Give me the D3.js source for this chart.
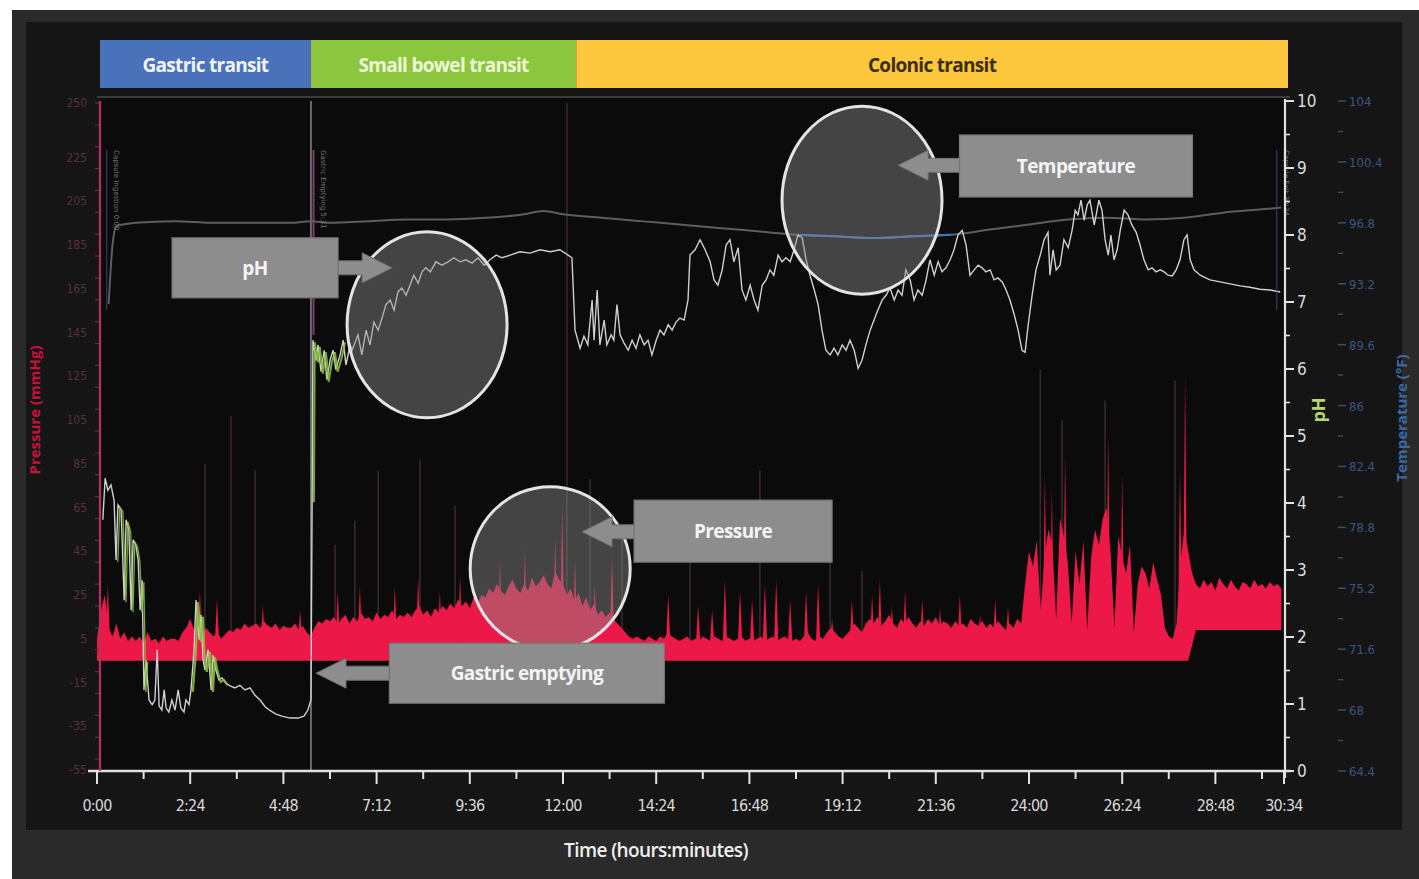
<!DOCTYPE html>
<html><head><meta charset="utf-8">
<script src="https://cdn.jsdelivr.net/npm/d3@7"></script>
<style>
html,body{margin:0;padding:0;background:#fff;}
svg{display:block;}
</style></head>
<body>
<svg id="chart" width="1419" height="879"></svg>
<script>
// ---------------- DATA ----------------
const phaseNames = ["Gastric transit", "Small bowel transit", "Colonic transit"];
const phaseStart = [0, 5.51, 12.34];
const phaseEnd = [5.51, 12.34, 30.67];

const timeTickHours = [0, 2.4, 4.8, 7.2, 9.6, 12, 14.4, 16.8, 19.2, 21.6, 24, 26.4, 28.8, 30.567];
const timeTickLabels = ["0:00","2:24","4:48","7:12","9:36","12:00","14:24","16:48","19:12","21:36","24:00","26:24","28:48","30:34"];
const timeMinorTicks = [1.2, 3.6, 6.0, 8.4, 10.8, 13.2, 15.6, 18.0, 20.4, 22.8, 25.2, 27.6, 30.0];
const pressureTicks = [250, 225, 205, 185, 165, 145, 125, 105, 85, 65, 45, 25, 5, -15, -35, -55];
const phTicks = [0,1,2,3,4,5,6,7,8,9,10];
const tempTicks = [104, 100.4, 96.8, 93.2, 89.6, 86, 82.4, 78.8, 75.2, 71.6, 68, 64.4];

// pH trace [hours, pH]
const phSeries = [
[0.15,3.75],[0.21,4.37],[0.28,4.19],[0.36,4.27],[0.44,4.04],[0.49,3.15],[0.54,3.97],[0.62,3.90],[0.70,2.55],[0.75,3.75],
[0.82,3.60],[0.88,2.40],[0.93,3.45],[1.00,3.37],[1.06,3.15],[1.11,2.40],[1.16,2.85],[1.21,1.21],[1.26,1.66],[1.34,1.06],
[1.42,0.99],[1.49,1.06],[1.55,1.81],[1.60,0.97],[1.67,0.91],[1.73,1.21],[1.78,0.94],[1.85,0.88],[1.93,1.06],[2.01,0.91],
[2.09,1.21],[2.16,0.94],[2.24,0.88],[2.29,1.06],[2.37,0.99],[2.42,1.21],[2.50,1.81],[2.55,2.55],[2.63,1.96],[2.68,2.33],
[2.73,1.66],[2.78,1.51],[2.86,1.81],[2.94,1.21],[2.99,1.73],[3.06,1.51],[3.14,1.36],[3.22,1.39],[3.32,1.31],[3.43,1.27],
[3.55,1.24],[3.68,1.28],[3.81,1.21],[3.94,1.24],[4.07,1.13],[4.20,1.06],[4.33,0.96],[4.46,0.90],[4.61,0.85],[4.76,0.82],
[4.97,0.79],[5.18,0.79],[5.33,0.82],[5.43,0.91],[5.51,1.06],[5.54,4.04],[5.56,6.43],[5.64,6.13],[5.69,6.36],[5.77,5.96],
[5.85,6.28],[5.92,5.84],[6.00,6.13],[6.08,6.28],[6.15,5.99],[6.26,6.21],[6.34,6.43],[6.41,6.06],[6.52,6.36],[6.57,6.28],
[6.72,6.51],[6.82,6.21],[6.93,6.58],[7.03,6.36],[7.13,6.70],[7.24,6.58],[7.34,6.76],[7.44,6.96],[7.55,7.03],[7.65,6.88],
[7.75,7.15],[7.85,7.21],[7.96,7.10],[8.06,7.25],[8.16,7.40],[8.27,7.28],[8.37,7.45],[8.47,7.51],[8.58,7.45],[8.73,7.60],
[8.88,7.55],[9.04,7.60],[9.19,7.66],[9.35,7.60],[9.50,7.63],[9.66,7.58],[9.81,7.66],[9.97,7.55],[10.12,7.63],[10.28,7.70],
[10.43,7.66],[10.64,7.70],[10.89,7.75],[11.15,7.73],[11.41,7.78],[11.67,7.75],[11.92,7.78],[12.13,7.70],[12.23,7.66],[12.31,6.58],
[12.44,6.31],[12.54,6.49],[12.64,6.36],[12.75,7.03],[12.80,6.43],[12.88,7.18],[12.95,6.36],[13.06,6.73],[13.13,6.36],[13.24,6.51],
[13.31,6.43],[13.39,6.96],[13.47,6.51],[13.57,6.39],[13.68,6.28],[13.78,6.43],[13.88,6.31],[13.98,6.51],[14.09,6.36],[14.19,6.43],
[14.29,6.21],[14.40,6.43],[14.50,6.58],[14.60,6.51],[14.71,6.66],[14.81,6.58],[14.91,6.70],[15.01,6.76],[15.12,6.73],[15.22,7.03],
[15.27,7.70],[15.40,7.78],[15.53,7.93],[15.66,7.78],[15.79,7.60],[15.89,7.33],[15.99,7.25],[16.10,7.48],[16.20,7.85],[16.30,7.93],
[16.40,7.60],[16.51,7.81],[16.61,7.18],[16.71,7.03],[16.82,7.25],[16.92,7.03],[17.02,6.88],[17.13,7.25],[17.23,7.33],[17.33,7.48],
[17.43,7.40],[17.54,7.70],[17.64,7.60],[17.74,7.66],[17.85,7.60],[17.95,7.78],[18.05,8.00],[18.16,7.96],[18.26,7.63],[18.36,7.40],
[18.47,7.18],[18.57,6.96],[18.67,6.58],[18.77,6.28],[18.88,6.21],[18.98,6.31],[19.08,6.21],[19.19,6.36],[19.29,6.28],[19.39,6.43],
[19.50,6.28],[19.60,6.01],[19.70,6.13],[19.80,6.36],[19.91,6.58],[20.01,6.73],[20.11,6.88],[20.22,7.03],[20.32,7.10],[20.42,7.21],
[20.53,7.03],[20.63,7.18],[20.73,7.10],[20.83,7.48],[20.94,7.33],[21.04,7.03],[21.14,7.18],[21.25,7.10],[21.35,7.33],[21.45,7.63],
[21.56,7.40],[21.66,7.60],[21.76,7.45],[21.86,7.51],[21.97,7.63],[22.07,7.78],[22.17,8.00],[22.28,8.07],[22.38,7.85],[22.48,7.40],
[22.59,7.48],[22.69,7.55],[22.79,7.51],[22.89,7.45],[23.00,7.48],[23.10,7.33],[23.20,7.36],[23.31,7.30],[23.41,7.18],[23.51,7.03],
[23.62,6.81],[23.72,6.58],[23.82,6.28],[23.90,6.25],[23.98,6.66],[24.08,7.10],[24.18,7.48],[24.29,7.70],[24.39,7.93],[24.49,8.04],
[24.54,7.40],[24.62,7.78],[24.70,7.48],[24.80,7.55],[24.90,7.93],[25.01,7.81],[25.11,8.07],[25.19,8.37],[25.26,8.30],[25.34,8.52],
[25.42,8.22],[25.50,8.45],[25.57,8.52],[25.68,8.15],[25.73,8.30],[25.80,8.52],[25.88,8.37],[25.96,7.93],[26.04,7.70],[26.11,8.00],
[26.19,7.63],[26.27,7.78],[26.35,8.07],[26.45,8.37],[26.55,8.30],[26.65,8.15],[26.76,8.04],[26.86,7.85],[26.96,7.63],[27.07,7.48],
[27.17,7.51],[27.27,7.45],[27.38,7.48],[27.48,7.45],[27.58,7.40],[27.69,7.39],[27.79,7.48],[27.89,7.63],[27.99,7.93],[28.07,8.00],
[28.15,7.63],[28.25,7.48],[28.41,7.40],[28.66,7.33],[28.92,7.30],[29.18,7.27],[29.44,7.24],[29.69,7.22],[29.95,7.19],[30.21,7.18],
[30.47,7.15]
];

// temperature trace [hours, °F]
const tempSeries = [
[0.30,92.0],[0.40,95.5],[0.50,96.6],[1.0,96.8],[2.0,96.9],[3.0,96.8],[4.0,96.8],[5.0,96.8],[5.5,96.9],[6.0,96.8],
[7.0,96.9],[8.0,97.0],[9.0,97.0],[10.0,97.1],[11.0,97.3],[11.5,97.5],[12.0,97.3],[13.0,97.1],[14.0,96.9],[15.0,96.7],
[16.0,96.5],[17.0,96.3],[18.0,96.1],[19.0,96.0],[20.0,95.9],[21.0,96.0],[22.0,96.1],[23.0,96.4],[24.0,96.7],[25.0,97.0],
[26.0,97.1],[27.0,97.0],[28.0,97.1],[29.0,97.4],[30.0,97.6],[30.5,97.7]
];

// pressure envelope (mmHg), sampled every 0.1 h from 0:00
const pressureStartHour = 0, pressureStepHours = 0.1;
const pressureTop = [
 5,18,25,10,6,12,5,8,4,6,
 4,6,3,8,4,5,3,6,4,5,
 5,4,8,10,14,9,12,7,10,8,
 6,8,5,7,9,8,10,9,12,10,
 11,12,10,13,11,10,12,9,11,10,
 10,12,9,11,8,6,10,13,12,14,
 13,15,12,14,16,12,15,13,17,14,
 15,13,17,14,16,15,18,14,16,15,
 17,15,18,20,16,18,15,19,17,20,
 18,21,19,23,20,22,19,24,21,25,
 24,28,26,30,27,25,29,32,28,26,
 30,27,33,29,31,34,30,28,36,32,
 30,25,28,22,26,20,24,18,21,16,
 18,15,17,14,12,10,8,6,5,6,
 5,4,6,5,4,6,5,8,6,5,
 4,5,6,4,5,4,6,5,4,6,
 5,4,6,5,4,5,6,4,5,4,
 5,6,4,5,6,4,5,6,5,4,
 5,4,6,8,5,4,6,5,8,10,
 8,6,5,7,9,12,10,8,12,14,
 12,15,11,13,16,12,10,14,12,15,
 12,10,13,11,14,12,15,11,13,12,
 10,13,11,12,10,14,12,11,13,10,
 12,10,13,11,9,12,10,14,12,30,
 45,38,50,18,42,55,48,14,60,52,
 40,12,45,30,50,9,42,55,48,60,
 65,45,10,52,42,35,48,8,30,38,
 35,28,40,32,25,10,6,5,12,40,
 55,45,35,30,28,32,29,31,27,33,
 30,28,32,29,27,31,30,28,32,29,
 30,28,31,29,30,28
];
const pressureBaseHours = [0, 28.1, 28.3, 30.567];
const pressureBaseValues = [-5, -5, 9, 9];

// sharp pressure spikes [hours, peak mmHg]
const pressureSpikes = [
[0.28,30],[2.65,27],[3.09,23],[4.27,20],[5.23,18],[6.2,27],[6.77,29],[7.67,29],[8.27,33],[8.83,27],
[9.35,34],[10.38,41],[11.02,46],[11.54,36],[11.8,52],[11.98,66],[12.31,41],[12.82,30],[13.26,43],[14.71,25],
[15.48,20],[15.84,18],[16.17,32],[16.56,27],[16.87,23],[17.2,30],[17.49,32],[17.85,23],[18.26,27],[18.57,30],
[18.93,14],[19.44,23],[19.96,25],[20.16,32],[20.47,20],[20.81,27],[21.25,23],[21.71,19],[22.22,25],[22.74,16],
[23.13,23],[23.46,20],[24.41,80],[24.59,73],[24.93,89],[26.04,98],[26.4,80],[27.89,82],[28.02,126]
];
// faint (dim) tall spikes [hours, peak mmHg]
const faintSpikes = [
[2.78,85],[3.45,107],[4.07,82],[6.13,48],[6.64,59],[7.24,82],[8.32,87],[9.22,66],[12.10,250],[12.7,78],
[13.52,55],[15.27,59],[17.07,82],[18.88,41],[19.70,36],[24.29,128],[24.85,105],[25.96,114],[27.76,123]
];

// event markers
const eventHours = [0.25, 5.55, 30.38];
const eventLabels = ["Capsule Ingestion 0:00", "Gastric Emptying 5:31", "Capsule Exit 30:34"];

// annotations
const annoLabels = ["pH", "Temperature", "Pressure", "Gastric emptying"];
const annoBoxHour = [4.07, 25.21, 16.38, 11.07];
const annoBoxPh = [7.51, 9.03, 3.58, 1.46];
const annoTipHour = [7.60, 20.63, 12.49, 5.64];
const annoTipPh = [7.51, 9.04, 3.57, 1.46];
const circleHour = [8.50, 19.70, 11.67];
const circlePh = [6.66, 8.52, 3.02];

// ---------------- STYLE ----------------
const W = 1419, H = 879;
const plotL = 97, plotR = 1284, plotT = 101, plotB = 771;
const phaseColors = ["#4a72ba", "#8cc63f", "#fdc73e"];
const phaseTextColors = ["#f2f4fa", "#eef7d8", "#3a2e05"];
const red = "#ec1848";

const svg = d3.select("#chart");

const x = d3.scaleLinear().domain([0, 30.567]).range([plotL, plotR]);
const yPh = d3.scaleLinear().domain([0, 10]).range([plotB, plotT]);
const yP = d3.scaleLinear().domain([-55, 250]).range([770, 103]);
const yT = d3.scaleLinear().domain([64.4, 104]).range([plotB, plotT]);

// backgrounds
svg.append("rect").attr("x", 12).attr("y", 10).attr("width", W - 12).attr("height", H - 10).attr("fill", "#2a2a2a");
svg.append("rect").attr("x", 26).attr("y", 22).attr("width", 1376).attr("height", 808).attr("fill", "#151515");
svg.append("rect").attr("x", plotL + 3).attr("y", plotT - 3).attr("width", plotR - plotL - 3).attr("height", plotB - plotT + 3).attr("fill", "#0b0b0b");
svg.append("line").attr("x1", plotL).attr("x2", 1290).attr("y1", 97).attr("y2", 97).attr("stroke", "#4a4a4a").attr("stroke-width", 1.5);

// phase band
const band = svg.append("g");
phaseNames.forEach((n, i) => {
  const x0 = x(phaseStart[i]) + (i === 0 ? 3 : 0), x1 = x(phaseEnd[i]);
  band.append("rect").attr("x", x0).attr("y", 40).attr("width", x1 - x0).attr("height", 48).attr("fill", phaseColors[i]);
  band.append("text").attr("x", (x0 + x1) / 2).attr("y", 72).attr("text-anchor", "middle")
    .attr("font-family", "'Open Sans', sans-serif").attr("font-weight", 700).attr("font-size", 19)
    .attr("letter-spacing", -0.7).attr("fill", phaseTextColors[i]).text(n);
});

// faint spikes
const g = svg.append("g");
g.selectAll("line.faint").data(faintSpikes).join("line")
  .attr("x1", d => x(d[0])).attr("x2", d => x(d[0]))
  .attr("y1", yP(0)).attr("y2", d => yP(d[1]))
  .attr("stroke", "#362a2d").attr("stroke-width", 1.6);

// gastric emptying vertical line
g.append("line").attr("x1", x(phaseEnd[0])).attr("x2", x(phaseEnd[0]))
  .attr("y1", plotT).attr("y2", plotB).attr("stroke", "#9a9a9a").attr("stroke-width", 1.3);

// pressure area
const baseScale = d3.scaleLinear().domain(pressureBaseHours).range(pressureBaseValues);
const pData = pressureTop.map((v, i) => [pressureStartHour + i * pressureStepHours, v]);
const area = d3.area().x(d => x(d[0])).y0(d => yP(baseScale(d[0]))).y1(d => yP(d[1])).curve(d3.curveLinear);
g.append("path").datum(pData).attr("d", area).attr("fill", red);
g.selectAll("path.spike").data(pressureSpikes).join("path")
  .attr("d", d => {
    const cx = x(d[0]), b = yP(baseScale(d[0]) + 8), t = yP(d[1]);
    return `M${cx - 2.2},${b}L${cx},${t}L${cx + 2.2},${b}Z`;
  }).attr("fill", red);

// temperature line
const tLine = d3.line().x(d => x(d[0])).y(d => yT(d[1])).curve(d3.curveMonotoneX);
g.append("path").datum(tempSeries).attr("d", tLine).attr("fill", "none").attr("stroke", "#5d5d5d").attr("stroke-width", 2);
g.append("path").datum(tempSeries.filter(d => d[0] >= 18 && d[0] <= 22)).attr("d", tLine)
  .attr("fill", "none").attr("stroke", "#3a78c4").attr("stroke-width", 2);

// pH line (white trace with green raw trace slightly offset)
const phLine = d3.line().x(d => x(d[0])).y(d => yPh(d[1]));
const phLineG = d3.line().x(d => x(d[0]) + 1.8).y(d => yPh(d[1]) + 2);
g.append("path").datum(phSeries).attr("d", phLine)
  .attr("fill", "none").attr("stroke", "#cfcfcf").attr("stroke-width", 1.4);
[[0.45, 1.3, 1.3], [2.42, 3.4, 2.2], [5.52, 6.35, 2.0]].forEach(s => {
  g.append("path").datum(phSeries.filter(d => d[0] >= s[0] && d[0] <= s[1])).attr("d", phLineG)
    .attr("fill", "none").attr("stroke", "#8cc63f").attr("stroke-width", s[2]).attr("opacity", 0.85);
});

// event markers (small rotated labels)
eventHours.forEach((h, i) => {
  const ex = x(h) + (i === 1 ? 1 : 0);
  svg.append("line").attr("x1", ex).attr("x2", ex).attr("y1", 150).attr("y2", i === 1 ? 335 : 310)
    .attr("stroke", i === 1 ? "#a04a78" : "#3b4a78").attr("stroke-width", i === 1 ? 2 : 1.2).attr("opacity", 0.8);
  svg.append("text").attr("transform", `translate(${ex + 7},${150}) rotate(90)`)
    .attr("font-family", "'DejaVu Sans', sans-serif").attr("font-size", 7).attr("fill", "#7a7a7a").text(eventLabels[i]);
});

// highlight circles
const circ = svg.append("g");
const rxs = [80, 80, 80], rys = [93, 94, 82];
circleHour.forEach((h, i) => {
  circ.append("ellipse").attr("cx", x(h)).attr("cy", yPh(circlePh[i])).attr("rx", rxs[i]).attr("ry", rys[i])
    .attr("fill", "#8a8a8a").attr("fill-opacity", 0.45).attr("stroke", "#e4e4e4").attr("stroke-width", 3);
});

// ---------------- AXES ----------------
const tickFont = "'Liberation Sans Narrow', 'DejaVu Sans Condensed', 'Open Sans', sans-serif";
const ax = svg.append("g");
ax.append("line").attr("x1", 88).attr("x2", 1291).attr("y1", plotB).attr("y2", plotB).attr("stroke", "#e2e2e2").attr("stroke-width", 2.5);
ax.selectAll("line.maj").data(timeTickHours).join("line")
  .attr("x1", d => x(d)).attr("x2", d => x(d)).attr("y1", plotB).attr("y2", plotB + 13)
  .attr("stroke", "#e2e2e2").attr("stroke-width", 2);
ax.selectAll("line.min").data(timeMinorTicks).join("line")
  .attr("x1", d => x(d)).attr("x2", d => x(d)).attr("y1", plotB).attr("y2", plotB + 8)
  .attr("stroke", "#e2e2e2").attr("stroke-width", 2);
ax.selectAll("text").data(timeTickHours).join("text")
  .attr("x", d => x(d)).attr("y", 811).attr("text-anchor", "middle")
  .attr("font-family", tickFont).attr("font-size", 16).attr("letter-spacing", -0.8).attr("fill", "#d8d8d8")
  .text((d, i) => timeTickLabels[i]);
svg.append("text").attr("x", 656).attr("y", 857).attr("text-anchor", "middle")
  .attr("font-family", "'Open Sans', sans-serif").attr("font-weight", 600).attr("font-size", 19).attr("letter-spacing", -0.6)
  .attr("fill", "#f0f0f0").text("Time (hours:minutes)");

// left pressure axis
const al = svg.append("g");
al.append("line").attr("x1", 100).attr("x2", 100).attr("y1", plotT).attr("y2", plotB).attr("stroke", "#b83060").attr("stroke-width", 2.2);
al.selectAll("line.t").data(d3.range(-50, 251, 10)).join("line")
  .attr("x1", 95).attr("x2", 99).attr("y1", d => yP(d)).attr("y2", d => yP(d))
  .attr("stroke", "#6a2a40").attr("stroke-width", 1.2);
al.selectAll("text").data(pressureTicks).join("text")
  .attr("x", 87).attr("y", d => yP(d) + 4).attr("text-anchor", "end")
  .attr("font-family", tickFont).attr("font-size", 12).attr("fill", "#56323f").text(d => d);
svg.append("text").attr("transform", "translate(40,410) rotate(-90)").attr("text-anchor", "middle")
  .attr("font-family", "'Open Sans', sans-serif").attr("font-weight", 700).attr("font-size", 15)
  .attr("fill", "#c8103c").text("Pressure (mmHg)");

// right pH axis
const ar = svg.append("g");
ar.append("line").attr("x1", plotR + 1).attr("x2", plotR + 1).attr("y1", plotT - 2).attr("y2", plotB + 7).attr("stroke", "#e2e2e2").attr("stroke-width", 2.2);
ar.selectAll("line.t").data(phTicks).join("line")
  .attr("x1", plotR + 1).attr("x2", plotR + 10).attr("y1", d => yPh(d)).attr("y2", d => yPh(d))
  .attr("stroke", "#e2e2e2").attr("stroke-width", 2);
ar.selectAll("line.m").data(d3.range(0.5, 10, 1)).join("line")
  .attr("x1", plotR + 1).attr("x2", plotR + 6).attr("y1", d => yPh(d)).attr("y2", d => yPh(d))
  .attr("stroke", "#e2e2e2").attr("stroke-width", 1.6);
ar.selectAll("text").data(phTicks).join("text")
  .attr("x", plotR + 13).attr("y", d => yPh(d) + 6).attr("text-anchor", "start")
  .attr("font-family", tickFont).attr("font-size", 17).attr("fill", "#dcdcdc").text(d => d);
svg.append("text").attr("transform", `translate(${plotR + 41},410) rotate(-90)`).attr("text-anchor", "middle")
  .attr("font-family", "'Open Sans', sans-serif").attr("font-weight", 700).attr("font-size", 18)
  .attr("fill", "#b9d86e").text("pH");

// temperature axis
const at = svg.append("g");
at.selectAll("line.t").data(tempTicks).join("line")
  .attr("x1", 1338).attr("x2", 1346).attr("y1", d => yT(d)).attr("y2", d => yT(d))
  .attr("stroke", "#3d4f6e").attr("stroke-width", 1.5);
at.selectAll("line.m").data(tempTicks.slice(1).map((d, i) => (d + tempTicks[i]) / 2)).join("line")
  .attr("x1", 1338).attr("x2", 1343).attr("y1", d => yT(d)).attr("y2", d => yT(d))
  .attr("stroke", "#3d4f6e").attr("stroke-width", 1.3);
at.selectAll("text").data(tempTicks).join("text")
  .attr("x", 1349).attr("y", d => yT(d) + 5).attr("text-anchor", "start")
  .attr("font-family", tickFont).attr("font-size", 13).attr("fill", "#3b5682").text(d => d);
svg.append("text").attr("transform", "translate(1407,418) rotate(-90)").attr("text-anchor", "middle")
  .attr("font-family", "'Open Sans', sans-serif").attr("font-weight", 700).attr("font-size", 15)
  .attr("fill", "#3a6aa6").text("Temperature (°F)");

// ---------------- ANNOTATIONS ----------------
const boxW = [166, 233, 198, 275], boxH = [60, 62, 62, 60];
const an = svg.append("g");
annoLabels.forEach((lab, i) => {
  const cx = x(annoBoxHour[i]), cy = yPh(annoBoxPh[i]);
  const tx = x(annoTipHour[i]), ty = yPh(annoTipPh[i]);
  const dir = tx > cx ? 1 : -1;
  const edge = cx + dir * boxW[i] / 2;
  const hb = tx - dir * 30;
  const p = `M${edge},${ty - 7}L${hb},${ty - 7}L${hb},${ty - 15}L${tx},${ty}L${hb},${ty + 15}L${hb},${ty + 7}L${edge},${ty + 7}Z`;
  an.append("path").attr("d", p).attr("fill", "#8d8d8d").attr("stroke", "#6e6e6e").attr("stroke-width", 1);
  an.append("rect").attr("x", cx - boxW[i] / 2).attr("y", cy - boxH[i] / 2).attr("width", boxW[i]).attr("height", boxH[i])
    .attr("fill", "#8d8d8d").attr("stroke", "#777").attr("stroke-width", 1.2);
  an.append("text").attr("x", cx).attr("y", cy + 7).attr("text-anchor", "middle")
    .attr("font-family", "'Open Sans', sans-serif").attr("font-weight", 700).attr("font-size", 19).attr("letter-spacing", -0.6)
    .attr("fill", "#f4f4f4").text(lab);
});
</script>
</body></html>
